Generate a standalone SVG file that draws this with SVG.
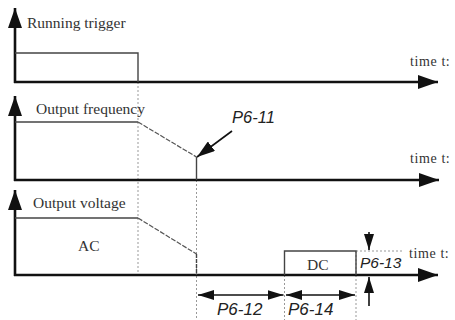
<svg xmlns="http://www.w3.org/2000/svg" width="455" height="320" viewBox="0 0 455 320">
<defs>
<marker id="ah" viewBox="0 0 20 14" refX="20" refY="7" markerWidth="20" markerHeight="14" markerUnits="userSpaceOnUse" orient="auto"><path d="M0,0 L20,7 L0,14 Z" fill="#111"/></marker>
<marker id="dh" viewBox="0 0 16 10" refX="16" refY="5" markerWidth="16" markerHeight="10" markerUnits="userSpaceOnUse" orient="auto-start-reverse"><path d="M0,0 L16,5 L0,10 Z" fill="#111"/></marker>
<marker id="sh" viewBox="0 0 18 12" refX="18" refY="6" markerWidth="18" markerHeight="12" markerUnits="userSpaceOnUse" orient="auto"><path d="M0,0 L18,6 L0,12 Z" fill="#111"/></marker>
</defs>
<style>
.axis{stroke:#111;stroke-width:2.6;fill:none}
.sig{stroke:#444;stroke-width:1.4;fill:none}
.slope{stroke:#555;stroke-width:1.2;fill:none;stroke-dasharray:5,1.5}
.guide{stroke:#999;stroke-width:1;fill:none;stroke-dasharray:2,2}
.dim{stroke:#111;stroke-width:1.6;fill:none}
.lbl{font-family:"Liberation Serif","DejaVu Serif",serif;font-size:15.5px;fill:#333}
.tm{font-family:"Liberation Serif","DejaVu Serif",serif;font-size:14px;fill:#333;letter-spacing:0.6px}
.par{font-family:"Liberation Sans",Arial,sans-serif;font-style:italic;fill:#222}
</style>
<g id="guides">
<line class="guide" x1="138" y1="82" x2="138" y2="275"/>
<line class="guide" x1="196.5" y1="180" x2="196.5" y2="320"/>
<line class="guide" x1="284.5" y1="275" x2="284.5" y2="320"/>
<line class="guide" x1="356" y1="251" x2="356" y2="320"/>
<line class="guide" x1="356" y1="251" x2="404" y2="251"/>
</g>
<g id="chart-running-trigger">
<line class="axis" x1="15" y1="83" x2="15" y2="8" marker-end="url(#ah)"/>
<line class="axis" x1="14" y1="82" x2="438" y2="82" marker-end="url(#ah)"/>
<polyline class="sig" points="15,53 138,53 138,82"/>
<text class="lbl" x="27" y="28">Running trigger</text>
<text class="tm" x="410" y="66">time t:</text>
</g>
<g id="chart-output-frequency">
<line class="axis" x1="15" y1="181" x2="15" y2="96" marker-end="url(#ah)"/>
<line class="axis" x1="14" y1="180" x2="439" y2="180" marker-end="url(#ah)"/>
<line class="sig" x1="15" y1="122" x2="138" y2="122"/>
<line class="slope" x1="138" y1="122" x2="196.5" y2="157"/>
<line class="sig" x1="196.5" y1="157" x2="196.5" y2="180"/>
<text class="lbl" x="36" y="114">Output frequency</text>
<text class="tm" x="410" y="163">time t:</text>
</g>
<g id="chart-output-voltage">
<line class="axis" x1="15" y1="276" x2="15" y2="190" marker-end="url(#ah)"/>
<line class="axis" x1="14" y1="275" x2="438" y2="275" marker-end="url(#ah)"/>
<line class="sig" x1="15" y1="218" x2="138" y2="218"/>
<line class="slope" x1="138" y1="218" x2="196.5" y2="254"/>
<line class="sig" x1="196.5" y1="254" x2="196.5" y2="275" stroke-dasharray="4,1"/>
<polyline class="sig" points="284.5,275 284.5,251 356,251 356,275"/>
<text class="lbl" x="33" y="208">Output voltage</text>
<text class="lbl" x="78" y="251">AC</text>
<text class="lbl" x="307" y="270">DC</text>
<text class="tm" x="409" y="258">time t:</text>
</g>
<g id="connectors">
<line class="dim" x1="232" y1="131" x2="197" y2="157" marker-end="url(#sh)"/>
<line class="dim" x1="198" y1="295" x2="283.5" y2="295" marker-start="url(#dh)" marker-end="url(#dh)"/>
<line class="dim" x1="286" y1="295" x2="355" y2="295" marker-start="url(#dh)" marker-end="url(#dh)"/>
<line class="dim" x1="369" y1="232" x2="369" y2="250" marker-end="url(#dh)"/>
<line class="dim" x1="369" y1="306" x2="369" y2="277" marker-end="url(#dh)"/>
</g>
<g id="labels">
<text class="par" x="232" y="123" font-size="16.5">P6-11</text>
<text class="par" x="360" y="268" font-size="15.5">P6-13</text>
<text class="par" x="217" y="315" font-size="17">P6-12</text>
<text class="par" x="288" y="315" font-size="17">P6-14</text>
</g>
</svg>
